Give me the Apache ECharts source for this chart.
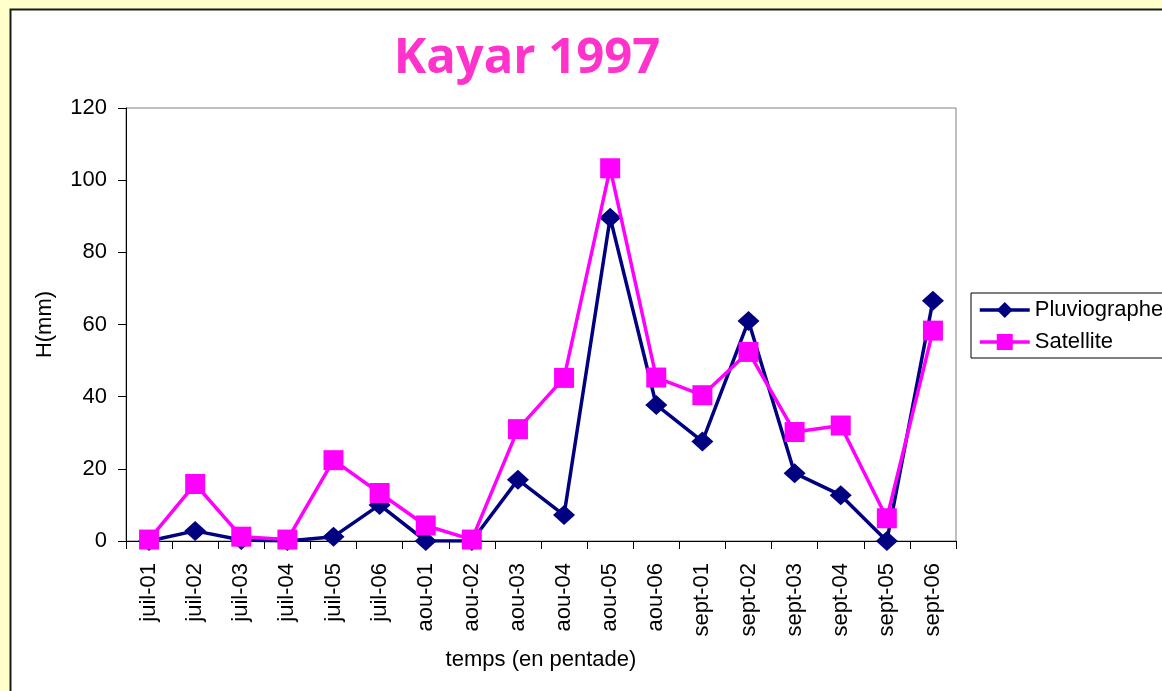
<!DOCTYPE html>
<html>
<head>
<meta charset="utf-8">
<title>Kayar 1997</title>
<script src="https://cdn.jsdelivr.net/npm/echarts@6/dist/echarts.min.js"></script>
<style>
  html, body { margin: 0; padding: 0; background: #FFFFCC; }
  #chart { width: 1162px; height: 691px; }
</style>
</head>
<body>
<div id="chart"></div>
<script>
// Pentads (5-day periods) from July to September 1997
var categories = ['juil-01', 'juil-02', 'juil-03', 'juil-04', 'juil-05', 'juil-06',
                  'aou-01', 'aou-02', 'aou-03', 'aou-04', 'aou-05', 'aou-06',
                  'sept-01', 'sept-02', 'sept-03', 'sept-04', 'sept-05', 'sept-06'];

// Rain gauge totals per pentad (mm)
var pluviographe = [0, 2.8, 0.3, 0, 1.2, 10, 0, 0, 17, 7.2, 89.6, 37.7,
                    27.6, 61, 18.8, 12.7, 0, 66.6];

// Satellite estimates per pentad (mm)
var satellite = [0.4, 15.8, 1.2, 0.4, 22.4, 13.3, 4.3, 0.4, 31, 45.2, 103.3, 45.3,
                 40.4, 52.4, 30.2, 32, 6.3, 58.3];

var yTicks = { min: 0, max: 120, step: 20 };

var FONT = '"Liberation Sans", Arial, sans-serif';

var chart = echarts.init(document.getElementById('chart'), null, { renderer: 'canvas' });

chart.setOption({
  backgroundColor: '#FFFFCC',
  animation: false,
  graphic: [{
    type: 'rect',
    z: -10,
    silent: true,
    shape: { x: 10.5, y: 9.5, width: 1300, height: 800 },
    style: { fill: '#FFFFFF', stroke: '#1a1a1a', lineWidth: 2 }
  }],
  title: {
    text: 'Kayar 1997',
    left: 522,
    textAlign: 'center',
    top: 30,
    textStyle: {
      fontFamily: '"Comic Sans MS", "Open Sans", sans-serif',
      fontWeight: 'bold',
      fontSize: 49,
      color: '#FF33CC'
    }
  },
  grid: {
    left: 126, right: 206, top: 108, bottom: 150,
    show: true,
    backgroundColor: 'transparent',
    borderColor: '#808080',
    borderWidth: 1
  },
  legend: {
    orient: 'vertical',
    left: 971,
    top: 293,
    padding: [6, 40, 5, 7],
    itemGap: 10,
    itemWidth: 50,
    itemHeight: 20,
    borderColor: '#000000',
    borderWidth: 1,
    backgroundColor: '#FFFFFF',
    lineStyle: { width: 3.5 },
    textStyle: { fontFamily: FONT, fontSize: 22, color: '#000000' },
    data: ['Pluviographe', 'Satellite']
  },
  xAxis: {
    type: 'category',
    data: categories,
    boundaryGap: true,
    name: 'temps (en pentade)',
    nameLocation: 'middle',
    nameGap: 108,
    nameTextStyle: { fontFamily: FONT, fontSize: 22, color: '#000000' },
    axisLine: { show: true, onZero: false, lineStyle: { color: '#000000', width: 1 } },
    axisTick: { show: true, inside: false, length: 8, lineStyle: { color: '#000000' } },
    axisLabel: {
      interval: 0,
      rotate: 90,
      margin: 22,
      fontFamily: FONT,
      fontSize: 22,
      color: '#000000'
    },
    splitLine: { show: false }
  },
  yAxis: {
    type: 'value',
    min: yTicks.min,
    max: yTicks.max,
    interval: yTicks.step,
    name: 'H(mm)',
    nameLocation: 'middle',
    nameGap: 70,
    nameTextStyle: { fontFamily: FONT, fontSize: 22, color: '#000000' },
    axisLine: { show: true, lineStyle: { color: '#000000', width: 1 } },
    axisTick: { show: true, inside: false, length: 8, lineStyle: { color: '#000000' } },
    axisLabel: { margin: 19, fontFamily: FONT, fontSize: 22, color: '#000000' },
    splitLine: { show: false }
  },
  series: [
    {
      name: 'Pluviographe',
      type: 'line',
      data: pluviographe,
      symbol: 'diamond',
      symbolSize: [22, 20],
      lineStyle: { color: '#000080', width: 3.5 },
      itemStyle: { color: '#000080' },
      z: 2
    },
    {
      name: 'Satellite',
      type: 'line',
      data: satellite,
      symbol: 'rect',
      symbolSize: 20,
      lineStyle: { color: '#FF00FF', width: 3.5 },
      itemStyle: { color: '#FF00FF' },
      z: 3
    }
  ]
});
</script>
</body>
</html>
